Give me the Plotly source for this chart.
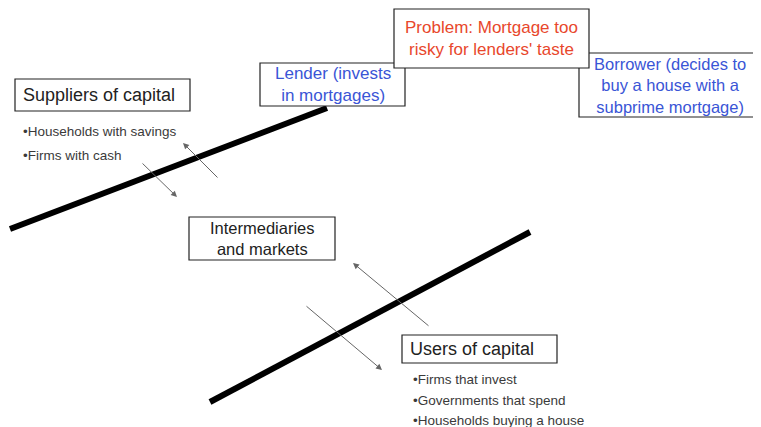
import plotly.graph_objects as go

W, H = 761, 427
PAD = 8  # page body margin of the browser

# boxed labels
box_text = ["Suppliers of capital", "Lender (invests<br>in mortgages)",
            "Problem: Mortgage too<br>risky for lenders' taste",
            "Borrower (decides to<br>buy a house with a<br>subprime mortgage)",
            "Intermediaries<br>and markets", "Users of capital"]
box_x0 = [15, 260, 394, 579, 189, 402]
box_x1 = [190, 405, 589, 760, 335, 557]
box_y0 = [79, 63, 9, 53, 217, 335]
box_y1 = [111, 106, 68, 117, 260, 363]
box_color = ["#222222", "#3a55d6", "#e8472c", "#3a55d6", "#222222", "#222222"]
box_size = [18, 17, 17, 16.5, 16.5, 18]
box_align = ["left", "center", "center", "center", "center", "left"]
box_z = [0, 0, 2, 1, 0, 0]

# bullet lists
bullets = ["•Households with savings", "•Firms with cash",
           "•Firms that invest", "•Governments that spend", "•Households buying a house"]
bullet_x = [21, 21, 411, 411, 411]
bullet_y = [131, 155, 379, 400, 420]

# thick market lines
line_x = [[10, 327], [210, 530]]
line_y = [[229, 108], [402, 232]]

# flow arrows (tail -> head)
arr_tail = [(141, 162), (219, 179), (305, 305), (430, 327)]
arr_head = [(177, 197), (183, 143), (382, 370), (353, 263)]

fig = go.Figure()

for lx, ly in zip(line_x, line_y):
    fig.add_trace(go.Scatter(x=lx, y=ly, mode="lines",
                             line=dict(color="black", width=6), hoverinfo="skip"))

shapes = []
annos = []
order = sorted(range(len(box_text)), key=lambda i: box_z[i])
for i in order:
    shapes.append(dict(type="rect", xref="x", yref="y", x0=box_x0[i], x1=box_x1[i],
                       y0=box_y0[i], y1=box_y1[i], fillcolor="white",
                       line=dict(color="#222222", width=1.2), layer="above"))
for i in range(len(box_text)):
    if box_align[i] == "left":
        x, xa = box_x0[i] + 6, "left"
    else:
        x, xa = (box_x0[i] + box_x1[i]) / 2, "center"
    annos.append(dict(x=x, y=(box_y0[i] + box_y1[i]) / 2, xref="x", yref="y",
                      text=box_text[i], showarrow=False, xanchor=xa, yanchor="middle",
                      align=box_align[i],
                      font=dict(family="Liberation Sans, Arial", size=box_size[i],
                                color=box_color[i])))

for t, x, y in zip(bullets, bullet_x, bullet_y):
    annos.append(dict(x=x, y=y, xref="x", yref="y", text=t, showarrow=False,
                      xanchor="left", yanchor="middle",
                      font=dict(family="Liberation Sans, Arial", size=13.5, color="#3a3a3a")))

for (tx, ty), (hx, hy) in zip(arr_tail, arr_head):
    annos.append(dict(x=hx, y=hy, ax=tx, ay=ty, xref="x", yref="y", axref="x", ayref="y",
                      text="", showarrow=True, arrowhead=2, arrowsize=1.2, arrowwidth=1,
                      arrowcolor="#666666"))

fig.update_layout(width=W - PAD, height=H - PAD, margin=dict(l=0, r=0, t=0, b=0),
                  paper_bgcolor="white", plot_bgcolor="white", showlegend=False,
                  shapes=shapes, annotations=annos,
                  xaxis=dict(range=[PAD, W], visible=False, fixedrange=True),
                  yaxis=dict(range=[H, PAD], visible=False, fixedrange=True))

fig.write_html("out.html")
